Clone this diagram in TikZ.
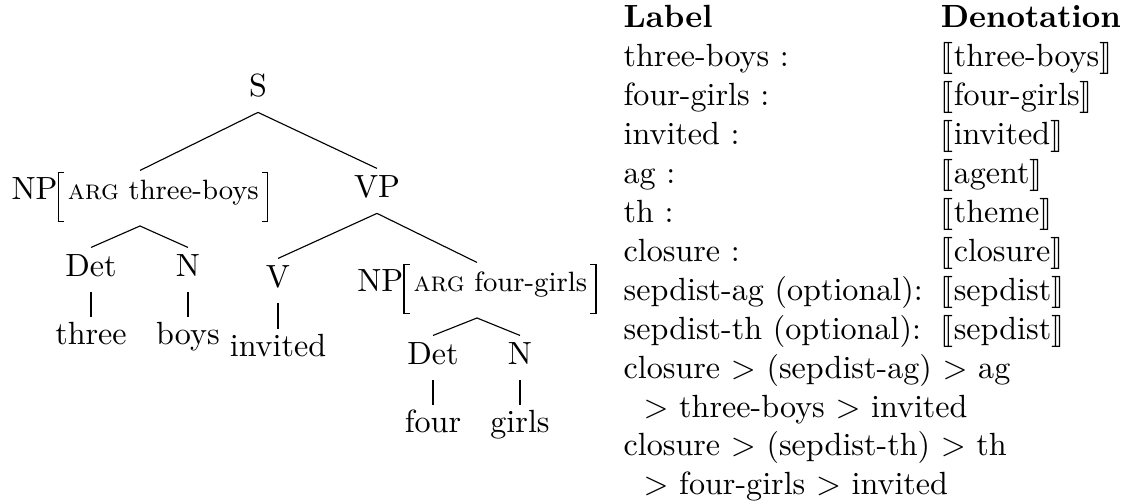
\documentclass[tikz,border=0pt]{standalone}
\usepackage{stmaryrd}
\newcommand{\AvmL}{\rlap{\rule[8.3pt]{2pt}{0.4pt}}\rlap{\rule[-6.85pt]{2pt}{0.4pt}}\rule[-6.85pt]{0.4pt}{15.55pt}}
\newcommand{\AvmR}{\rule[-6.85pt]{0.4pt}{15.55pt}\llap{\rule[8.3pt]{2pt}{0.4pt}}\llap{\rule[-6.85pt]{2pt}{0.4pt}}}
\newcommand{\AvmNP}[1]{NP\AvmL\hspace{2.8pt}{\fontsize{8.7}{10}\selectfont\textsc{arg} #1}\hspace{2.6pt}\AvmR}
\newcommand{\den}[1]{$\llbracket$#1$\rrbracket$}
\tikzset{
  tn/.style={anchor=base, inner sep=0pt, text height=9pt, text depth=4.6pt},
  leaf/.style={anchor=base, inner sep=0pt, text height=8.4pt, text depth=2pt},
  npavm/.style={anchor=base, inner sep=0pt, text height=9pt, text depth=7.9pt},
  edge/.style={draw=black, line width=0.35pt}
}
\begin{document}
\begin{tikzpicture}[x=0.3115pt, y=-0.3115pt]
\useasboundingbox (0,0) rectangle (1122,501);
% tree
\node[tn] (S) at (258,97) {S};
\node[npavm] (NP1) at (140,200) {\AvmNP{three-boys}};
\node[tn] (VP) at (377,198) {VP};
\node[tn] (Det1) at (91,277) {Det};
\node[tn] (N1) at (188,277) {N};
\node[leaf] (three) at (91,345) {three};
\node[leaf] (boys) at (188,345) {boys};
\node[tn] (V) at (278,288) {V};
\node[leaf] (invited) at (278,357) {invited};
\node[npavm] (NP2) at (477,292) {\AvmNP{four-girls}};
\node[tn] (Det2) at (433,365) {Det};
\node[tn] (N2) at (520,365) {N};
\node[leaf] (four) at (433,433) {four};
\node[leaf] (girls) at (520,433) {girls};
\draw[edge] (NP1.north) -- (S.south) -- (VP.north);
\draw[edge] (Det1.north) -- (NP1.south) -- (N1.north);
\draw[edge] (Det1.south) -- (three.north);
\draw[edge] (N1.south) -- (boys.north);
\draw[edge] (V.north) -- (VP.south) -- (NP2.north);
\draw[edge] (V.south) -- (invited.north);
\draw[edge] (Det2.north) -- (NP2.south) -- (N2.north);
\draw[edge] (Det2.south) -- (four.north);
\draw[edge] (N2.south) -- (girls.north);
% table
\node[anchor=base west, inner sep=0pt] (tbl) at (623,28) {%
\renewcommand{\arraystretch}{1.01}%
\begin{tabular}[t]{@{}p{98.8pt}@{}l@{}}
\textbf{Label} & \textbf{Denotation}\\
three-boys : & \den{three-boys}\\
four-girls : & \den{four-girls}\\
invited : & \den{invited}\\
ag : & \den{agent}\\
th : & \den{theme}\\
closure : & \den{closure}\\
sepdist-ag (optional): & \den{sepdist}\\
sepdist-th (optional): & \den{sepdist}\\
\multicolumn{2}{@{}l@{}}{closure $>$ (sepdist-ag) $>$ ag}\\
\multicolumn{2}{@{}l@{}}{\hspace*{6.2pt}$>$ three-boys $>$ invited}\\
\multicolumn{2}{@{}l@{}}{closure $>$ (sepdist-th) $>$ th}\\
\multicolumn{2}{@{}l@{}}{\hspace*{6.2pt}$>$ four-girls $>$ invited}
\end{tabular}};
\end{tikzpicture}
\end{document}
